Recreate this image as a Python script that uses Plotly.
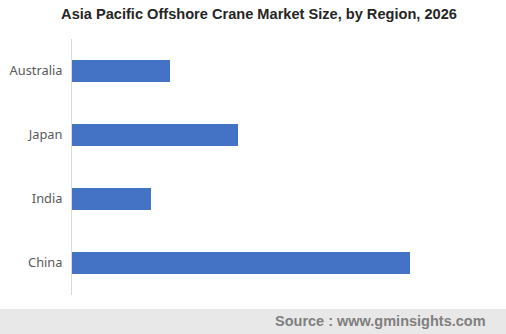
import plotly.graph_objects as go

categories = ["China", "India", "Japan", "Australia"]
values = [338, 79, 166, 98]

title_text = "Asia Pacific Offshore Crane Market Size, by Region, 2026"
source_text = "Source : www.gminsights.com"

W, H = 506, 334
ml, mr, mt, mb = 72, 16, 39, 39
pw, ph = W - ml - mr, H - mt - mb
bottom = mt + ph


def py(p):
    return (bottom - p) / ph


fig = go.Figure(go.Bar(
    x=values, y=categories, orientation="h",
    marker=dict(color="#4472c4", line=dict(width=0)),
    width=0.344,
    hoverinfo="x+y",
))

fig.update_layout(
    width=W, height=H,
    margin=dict(l=ml, r=mr, t=mt, b=mb, pad=0, autoexpand=False),
    paper_bgcolor="white", plot_bgcolor="white",
    showlegend=False,
    title=dict(text="<b>" + title_text + "</b>", x=259 / W, xanchor="center",
               y=1 - 14 / H, yanchor="middle",
               font=dict(family="Liberation Sans, Arial", size=14.6, color="#262626")),
    xaxis=dict(range=[0, pw], showgrid=False, showticklabels=False, zeroline=False,
               showline=False, ticks="", automargin=False),
    yaxis=dict(showline=True, linecolor="#d9d9d9", linewidth=1, showgrid=False,
               ticks="", ticklabelstandoff=6, automargin=False,
               tickfont=dict(family="Noto Sans", size=12.8, color="#595959"),
               categoryorder="array", categoryarray=categories),
    shapes=[dict(type="rect", xref="paper", yref="paper",
                 x0=-ml / pw, x1=(W - ml) / pw,
                 y0=py(H), y1=py(309),
                 fillcolor="#e8e8e8", line=dict(width=0), layer="below")],
    annotations=[dict(text="<b>" + source_text + "</b>", xref="paper", yref="paper",
                      x=(488 - ml) / pw, xanchor="right",
                      y=py(320.5), yanchor="middle",
                      showarrow=False,
                      font=dict(family="Liberation Sans, Arial", size=14.5, color="#7f7f7f"))],
)

fig.write_html("out.html")
